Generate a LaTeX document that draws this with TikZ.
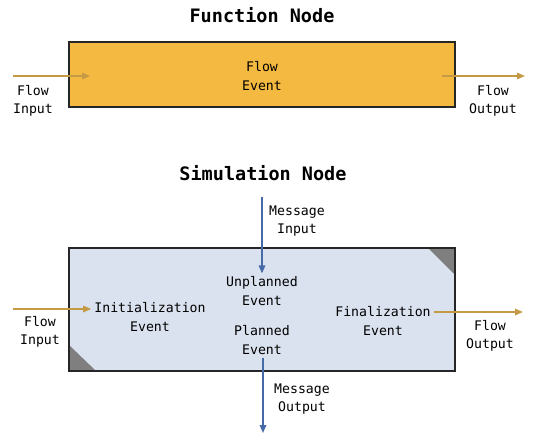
\documentclass[tikz,border=0pt]{standalone}
\usepackage{fontspec}
\setmonofont{DejaVu Sans Mono}
\usetikzlibrary{arrows.meta,positioning}
\definecolor{fnorange} {HTML}{F3B940}
\definecolor{simblue}  {HTML}{DBE2EF}
\definecolor{flowgold} {HTML}{C49A45}
\definecolor{msgblue}  {HTML}{4669A8}
\definecolor{cornergray}{HTML}{7F7F7F}
\definecolor{edgedark} {HTML}{262626}

\tikzset{
  lbl/.style={align=center,inner sep=3pt,
    font=\fontsize{13.2}{18.5}\selectfont\ttfamily},
  ttl/.style={font=\fontsize{18.5}{20}\selectfont\ttfamily\bfseries},
  nodebox/.style={minimum width=386pt,outer sep=0pt,inner sep=0pt},
  flowarr/.style={flowgold,line width=1.6pt,-{Triangle[length=8pt,width=6.5pt]}},
  msgarr/.style={msgblue,line width=1.6pt,-{Triangle[length=8pt,width=6.5pt]}},
}

\begin{document}
\begin{tikzpicture}[x=1pt,y=-1pt]
        \useasboundingbox (0,0) rectangle (535,436);
        % function node
        \node[ttl] (fntitle) at (262,15) {Function Node};
        \node[nodebox,minimum height=65pt,fill=fnorange,draw=edgedark,line width=2pt]
          (fn) at (262,74.5) {};
        \node[lbl] (flowev) at (262,76) {Flow\\Event};
        \coordinate (fnin)  at (13,76);
        \coordinate (fnend) at (90,76);
        \coordinate (fnout) at (442,76);
        \coordinate (fnfar) at (525,76);
        \draw[flowarr] (fnin) -- (fnend);
        \draw[flowarr] (fnout) -- (fnfar);
        \node[lbl] (fninlbl)  at (33,101)  {Flow\\Input};
        \node[lbl] (fnoutlbl) at (493,101) {Flow\\Output};

        % simulation node
        \node[ttl] (simtitle) at (263,173) {Simulation Node};
        \node[nodebox,minimum height=123pt,fill=simblue] (sim) at (262,309.5) {};
        \fill[cornergray] (sim.north east) -- ++(-27,0) -- ++(27,27) -- cycle;
        \fill[cornergray] (sim.south west) -- ++(0,-26) -- ++(27,26) -- cycle;
        \draw[edgedark,line width=2pt] (sim.north west) rectangle (sim.south east);

        \node[lbl] (initev)  at (150,317) {Initialization\\Event};
        \node[lbl] (unplan)  at (262,291) {Unplanned\\Event};
        \node[lbl] (planev)  at (262,340) {Planned\\Event};
        \node[lbl] (finev)   at (383,321) {Finalization\\Event};

        % flow connectors
        \coordinate (simin)  at (13,309);
        \coordinate (simout) at (523,312);
        \draw[flowarr] (simin) -- (simin -| initev.west);
        \draw[flowarr] (finev.east |- simout) -- (simout);
        \node[lbl] (siminlbl)  at (40,332)  {Flow\\Input};
        \node[lbl] (simoutlbl) at (490,336) {Flow\\Output};

        % message connectors
        \coordinate (msgtop) at (262,197);
        \coordinate (msgbot) at (263,433);
        \draw[msgarr] (msgtop) -- (unplan.north);
        \draw[msgarr] (planev.south -| msgbot) -- (msgbot);
        \node[lbl] (msginlbl)  at (297,221) {Message\\Input};
        \node[lbl] (msgoutlbl) at (302,399) {Message\\Output};
      \end{tikzpicture}
\end{document}
